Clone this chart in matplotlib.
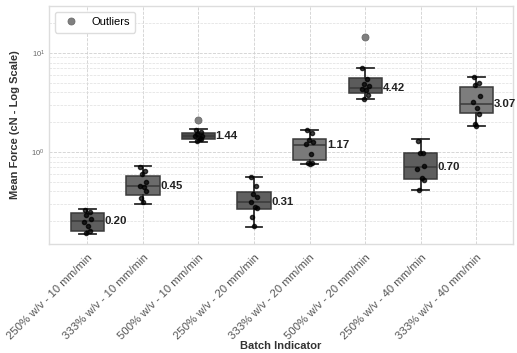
import matplotlib
matplotlib.use("Agg")
import matplotlib.pyplot as plt
import numpy as np
from matplotlib.lines import Line2D
from matplotlib.ticker import LogLocator, NullFormatter

plt.rcParams["font.family"] = ["Liberation Sans", "DejaVu Sans"]

categories = ["250% w/v - 10 mm/min", "333% w/v - 10 mm/min", "500% w/v - 10 mm/min",
              "250% w/v - 20 mm/min", "333% w/v - 20 mm/min", "500% w/v - 20 mm/min",
              "250% w/v - 40 mm/min", "333% w/v - 40 mm/min"]
medians = [0.20, 0.45, 1.44, 0.31, 1.17, 4.42, 0.70, 3.07]
q1 = [0.159, 0.37, 1.35, 0.264, 0.83, 3.98, 0.533, 2.46]
q3 = [0.242, 0.576, 1.57, 0.394, 1.35, 5.55, 0.977, 4.57]
whis_lo = [0.148, 0.30, 1.27, 0.176, 0.75, 3.41, 0.413, 1.84]
whis_hi = [0.266, 0.72, 1.69, 0.563, 1.67, 7.0, 1.34, 5.72]
outliers = [[], [], [2.1], [], [], [14.4], [], []]
points = [
    [0.26, 0.25, 0.23, 0.21, 0.195, 0.18, 0.16, 0.152],
    [0.70, 0.65, 0.60, 0.50, 0.45, 0.44, 0.40, 0.34, 0.31],
    [1.65, 1.58, 1.52, 1.46, 1.44, 1.40, 1.35, 1.29],
    [0.56, 0.45, 0.38, 0.35, 0.31, 0.28, 0.27, 0.22, 0.18],
    [1.65, 1.55, 1.32, 1.25, 1.20, 0.95, 0.78, 0.77, 0.75],
    [7.0, 5.5, 4.9, 4.6, 4.3, 4.2, 3.8, 3.4],
    [1.30, 0.98, 0.97, 0.72, 0.68, 0.55, 0.52, 0.41],
    [5.7, 5.0, 4.7, 3.7, 3.2, 2.8, 2.4, 1.9, 1.85],
]
box_colors = ["#5e5e5e", "#6b6b6b", "#4a4a4a", "#606060", "#7a7a7a", "#5b5b5b", "#5e5e5e", "#7d7d7d"]

fig = plt.figure(figsize=(5.17, 3.53), dpi=100)
ax = fig.add_axes([0.0948, 0.309, 0.8975, 0.674])
ax.set_facecolor("white")

stats = []
for i in range(len(categories)):
    stats.append(dict(med=medians[i], q1=q1[i], q3=q3[i], whislo=whis_lo[i],
                      whishi=whis_hi[i], fliers=[], label=categories[i]))
pos = np.arange(len(categories))
bp = ax.bxp(stats, positions=pos, widths=0.6, patch_artist=True, showfliers=False,
            capwidths=0.3,
            boxprops=dict(edgecolor="#3a3a3a", linewidth=1.1),
            medianprops=dict(color="#3a3a3a", linewidth=1.1),
            whiskerprops=dict(color="#2a2a2a", linewidth=1.3),
            capprops=dict(color="#2a2a2a", linewidth=1.3), zorder=2)
for patch, c in zip(bp["boxes"], box_colors):
    patch.set_facecolor(c)

jit = [-0.05, 0.04, -0.02, 0.06, -0.06, 0.02, 0.05, -0.03, 0.0]
for i, pts in enumerate(points):
    xs = [pos[i] + jit[k % len(jit)] for k in range(len(pts))]
    ax.plot(xs, pts, "o", color="black", markersize=3.0, alpha=0.75, zorder=3)
    for o in outliers[i]:
        ax.plot(pos[i], o, "o", color="#808080", markersize=5, markeredgecolor="#6a6a6a",
                markeredgewidth=0.6, zorder=3)
    ax.text(pos[i] + 0.31, medians[i], f"{medians[i]:.2f}", va="center", ha="left",
            fontsize=8.2, fontweight="bold", color="#222222", zorder=4)

ax.set_yscale("log")
ax.set_ylim(0.118, 29.8)
ax.set_xlim(-0.69, 7.66)
ax.yaxis.set_major_locator(LogLocator(base=10))
ax.yaxis.set_minor_locator(LogLocator(base=10, subs=np.arange(2, 10)))
ax.yaxis.set_minor_formatter(NullFormatter())
ax.tick_params(axis="y", which="both", length=0, labelsize=5.5, labelcolor="#666666", pad=3)
ax.tick_params(axis="x", length=0, pad=6)
ax.set_xticks(pos)
ax.set_xticklabels(categories, rotation=45, ha="right", rotation_mode="anchor",
                   fontsize=8.2, color="#555555")
ax.grid(True, which="major", axis="both", linestyle="--", color="#d0d0d0", linewidth=0.6, zorder=0)
ax.grid(True, which="minor", axis="y", linestyle="--", color="#dedede", linewidth=0.5, zorder=0)
ax.set_axisbelow(True)
for s in ax.spines.values():
    s.set_color("#dddddd")
    s.set_linewidth(1.0)

ax.set_ylabel("Mean Force (cN - Log Scale)", fontsize=8, fontweight="bold", color="#333333", labelpad=8)
ax.set_xlabel("Batch Indicator", fontsize=8, fontweight="bold", color="#333333", labelpad=0)

handle = Line2D([], [], marker="o", linestyle="none", color="#808080", markersize=5,
                markeredgecolor="#6a6a6a", markeredgewidth=0.6)
ax.legend([handle], ["Outliers"], loc="upper left", fontsize=8, frameon=True,
          edgecolor="#dddddd", framealpha=1.0, borderpad=0.5, handletextpad=0.8)

fig.savefig("out.png", dpi=100)
